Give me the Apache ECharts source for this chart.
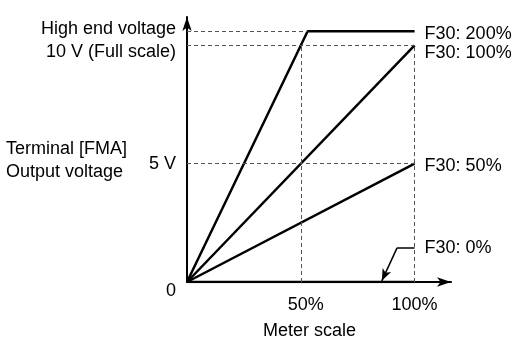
<!DOCTYPE html>
<html>
<head>
<meta charset="utf-8">
<script src="https://cdn.jsdelivr.net/npm/echarts@6/dist/echarts.min.js"></script>
<style>
  html, body { margin: 0; padding: 0; background: #fff; }
  #main { width: 517px; height: 337px; }
</style>
</head>
<body>
<div id="main"></div>
<script>
// F30 output gain curves: [meter scale %, output V]
var gain200 = [[0, 0], [53, 10.6], [100, 10.6]];
var gain100 = [[0, 0], [100, 10]];
var gain50 = [[0, 0], [100, 5]];
var gain0 = [[0, 0], [100, 0]];
var seriesNames = ['F30: 200%', 'F30: 100%', 'F30: 50%', 'F30: 0%'];

// callout for F30: 0% (corner -> label end, corner -> arrow tip)
var calloutLine = [[92.3, 1.44], [100, 1.44]];
var calloutArrow = [[92.3, 1.44], [85.6, 0.05]];

// dashed guide segments
var guides = [
    [[0, 10.6], [53, 10.6]],
    [[0, 10], [100, 10]],
    [[0, 5], [100, 5]],
    [[50, 0], [50, 10]],
    [[100, 0], [100, 10]]
];

// tick labels
var yTickValues = [0, 5, 10, 10.6];
var yTickLabels = ['0', '5 V', '10 V (Full scale)', 'High end voltage'];
var yTickStyle = ['z', 'v', 'f', 'h'];
var xTickValues = [50, 100];
var xTickLabels = ['50%', '100%'];
var xTickStyle = ['p', 'q'];

var FONT = 'Liberation Sans';

function initChart() {
    var myChart = echarts.init(document.getElementById('main'));

    var txt = { fontFamily: FONT, fontSize: 18, color: '#000' };

    // end label pushed down by half of padTop
    function endLabel(padTop) {
        return Object.assign({
            show: true,
            distance: 10,
            formatter: function (p) { return '{d|' + p.seriesName + '}'; },
            rich: { d: Object.assign({ padding: [padTop, 0, 0, 0] }, txt) }
        }, txt);
    }

    var lineBase = {
        type: 'line',
        symbol: 'none',
        silent: true,
        lineStyle: { color: '#000', width: 2.5 },
        z: 3
    };

    var option = {
        animation: false,
        backgroundColor: '#fff',
        title: [
            {
                text: 'Terminal [FMA]\nOutput voltage',
                left: 6,
                top: 138,
                padding: 0,
                textStyle: Object.assign({ fontWeight: 'normal', lineHeight: 23 }, txt)
            },
            {
                text: 'Meter scale',
                left: 263,
                top: 322,
                padding: 0,
                textStyle: Object.assign({ fontWeight: 'normal' }, txt)
            }
        ],
        grid: { left: 187, right: 66, top: 17, bottom: 55 },
        xAxis: {
            type: 'value',
            min: 0,
            max: 116,
            splitLine: { show: false },
            axisTick: { show: false },
            axisLine: {
                show: true,
                symbol: ['none', 'arrow'],
                symbolSize: [7, 14],
                lineStyle: { color: '#000', width: 2 }
            },
            axisLabel: Object.assign({
                customValues: xTickValues,
                margin: 14,
                formatter: function (v) {
                    var i = xTickValues.indexOf(v);
                    return '{' + xTickStyle[i] + '|' + xTickLabels[i] + '}';
                },
                rich: {
                    p: Object.assign({ padding: [0, 0, 0, 10] }, txt),
                    q: Object.assign({}, txt)
                }
            }, txt)
        },
        yAxis: {
            type: 'value',
            min: 0,
            max: 11.2,
            splitLine: { show: false },
            axisTick: { show: false },
            axisLine: {
                show: true,
                symbol: ['none', 'arrow'],
                symbolSize: [7, 14],
                lineStyle: { color: '#000', width: 2 }
            },
            axisLabel: Object.assign({
                customValues: yTickValues,
                margin: 11,
                formatter: function (v) {
                    var i = yTickValues.indexOf(v);
                    return '{' + yTickStyle[i] + '|' + yTickLabels[i] + '}';
                },
                rich: {
                    z: Object.assign({ padding: [18, 0, 0, 0] }, txt),
                    v: Object.assign({}, txt),
                    f: Object.assign({ padding: [13, 0, 0, 0] }, txt),
                    h: Object.assign({ padding: [0, 0, 4, 0] }, txt)
                }
            }, txt)
        },
        series: [
            {
                type: 'line',
                name: 'guides',
                data: [],
                silent: true,
                markLine: {
                    silent: true,
                    symbol: 'none',
                    label: { show: false },
                    lineStyle: { color: '#555', width: 1, type: [4, 3] },
                    emphasis: { disabled: true },
                    data: guides.map(function (g) {
                        return [{ coord: g[0] }, { coord: g[1] }];
                    })
                },
                z: 1
            },
            Object.assign({}, lineBase, { name: seriesNames[0], data: gain200, endLabel: endLabel(5) }),
            Object.assign({}, lineBase, { name: seriesNames[1], data: gain100, endLabel: endLabel(16) }),
            Object.assign({}, lineBase, { name: seriesNames[2], data: gain50, endLabel: endLabel(4) }),
            Object.assign({}, lineBase, { name: 'gain0', data: gain0 }),
            Object.assign({}, lineBase, {
                name: seriesNames[3],
                data: calloutLine,
                lineStyle: { color: '#000', width: 1.5 },
                endLabel: endLabel(0),
                markLine: {
                    silent: true,
                    symbol: ['none', 'arrow'],
                    symbolSize: [7, 12],
                    label: { show: false },
                    lineStyle: { color: '#000', width: 1.5, type: 'solid' },
                    emphasis: { disabled: true },
                    data: [[{ coord: calloutArrow[0] }, { coord: calloutArrow[1] }]]
                }
            })
        ]
    };

    myChart.setOption(option);
}

initChart();
</script>
</body>
</html>
